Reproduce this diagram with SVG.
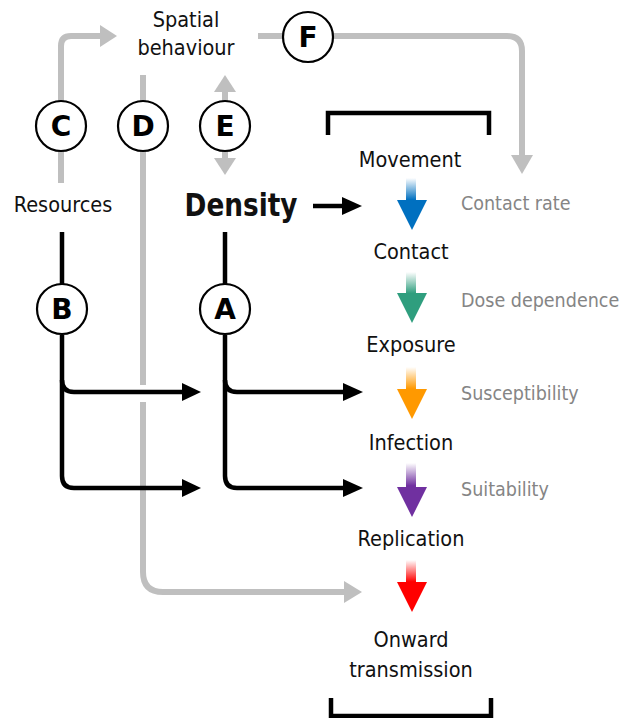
<svg xmlns="http://www.w3.org/2000/svg" width="621" height="718" viewBox="0 0 621 718">
<style>
text{font-family:"DejaVu Sans Condensed","DejaVu Sans","Liberation Sans",sans-serif;font-stretch:condensed;fill:#111}
.lbl{font-size:21.5px;text-anchor:middle}
.side{font-size:19.5px;fill:#858585}
.circ{fill:#fff;stroke:#000;stroke-width:2.2}
.cl{font-family:"DejaVu Sans","Liberation Sans",sans-serif;font-stretch:normal;font-size:28px;font-weight:bold;text-anchor:middle;fill:#000}
.g{fill:none;stroke:#bfbfbf;stroke-width:6}
.b{fill:none;stroke:#000;stroke-width:4.5}
.gh{fill:#bfbfbf}
.bh{fill:#000}
</style>
<defs>
<linearGradient id="gBlue" x1="0" y1="0" x2="0" y2="1"><stop offset="0" stop-color="#fff"/><stop offset="0.42" stop-color="#0070c0"/></linearGradient>
<linearGradient id="gGreen" x1="0" y1="0" x2="0" y2="1"><stop offset="0" stop-color="#fff"/><stop offset="0.42" stop-color="#2f9e7e"/></linearGradient>
<linearGradient id="gOrange" x1="0" y1="0" x2="0" y2="1"><stop offset="0" stop-color="#fff"/><stop offset="0.42" stop-color="#ff9900"/></linearGradient>
<linearGradient id="gPurple" x1="0" y1="0" x2="0" y2="1"><stop offset="0" stop-color="#fff"/><stop offset="0.42" stop-color="#7030a0"/></linearGradient>
<linearGradient id="gRed" x1="0" y1="0" x2="0" y2="1"><stop offset="0" stop-color="#fff"/><stop offset="0.42" stop-color="#ff0000"/></linearGradient>
</defs>

<g id="connectors">
  <!-- C: Resources -> Spatial behaviour -->
  <path class="g" d="M61,183 V46 Q61,36 71,36 H102"/>
  <polygon class="gh" points="100,25 117,36 100,47"/>
  <!-- D: Spatial behaviour -> Onward transmission -->
  <path class="g" d="M143,75 V385"/>
  <path class="g" d="M143,402 V572 Q143,592 163,592 H346"/>
  <polygon class="gh" points="344,581 362,592 344,603"/>
  <!-- E: double arrow -->
  <path class="g" d="M225,88 V162"/>
  <polygon class="gh" points="214,92 225,75 236,92"/>
  <polygon class="gh" points="214,158 225,175 236,158"/>
  <!-- F: Spatial behaviour -> Contact rate -->
  <path class="g" d="M258,36 H284"/>
  <path class="g" d="M333,36 H507 Q522,36 522,51 V158"/>
  <polygon class="gh" points="511,155 522,174 533,155"/>
  <!-- Density -> Movement/Contact -->
  <path class="b" d="M313,206 H344"/>
  <polygon class="bh" points="342,197 362,206 342,215"/>
  <!-- B: Resources -> Density effects -->
  <path class="b" d="M62,232 V284"/>
  <path class="b" d="M62,335 V476 Q62,488 74,488 H184"/>
  <path class="b" d="M62,380 Q62,392 74,392 H184"/>
  <polygon class="bh" points="182,383 201,392 182,401"/>
  <polygon class="bh" points="182,479 201,488 182,497"/>
  <!-- A: Density -> Infection / Replication -->
  <path class="b" d="M225,232 V284"/>
  <path class="b" d="M225,335 V476 Q225,488 237,488 H345"/>
  <path class="b" d="M225,380 Q225,392 237,392 H345"/>
  <polygon class="bh" points="343,383 363,392 343,401"/>
  <polygon class="bh" points="343,479 363,488 343,497"/>
  <!-- brackets -->
  <path class="b" d="M328,135 V113 H489 V135" stroke-width="3.5"/>
  <path class="b" d="M331,698 V716 H491 V698" stroke-width="3.5"/>
</g>

<g id="spatial-behaviour">
  <text class="lbl" x="186" y="27">Spatial</text>
  <text class="lbl" x="186" y="55">behaviour</text>
</g>
<g id="resources"><text class="lbl" x="63" y="212">Resources</text></g>
<g id="density"><text x="241" y="216" font-size="32px" font-weight="bold" text-anchor="middle" fill="#000" textLength="113" lengthAdjust="spacingAndGlyphs">Density</text></g>

<g id="circle-C"><circle class="circ" cx="61" cy="126" r="25"/><text class="cl" x="61" y="136">C</text></g>
<g id="circle-D"><circle class="circ" cx="143" cy="126" r="25"/><text class="cl" x="143" y="136">D</text></g>
<g id="circle-E"><circle class="circ" cx="225" cy="126" r="25"/><text class="cl" x="225" y="136">E</text></g>
<g id="circle-F"><circle class="circ" cx="308" cy="37" r="25"/><text class="cl" x="308" y="47">F</text></g>
<g id="circle-B"><circle class="circ" cx="62" cy="309" r="25"/><text class="cl" x="62" y="319">B</text></g>
<g id="circle-A"><circle class="circ" cx="225" cy="309" r="25"/><text class="cl" x="225" y="319">A</text></g>

<g id="movement"><text class="lbl" x="410" y="167">Movement</text></g>
<g id="arrow-blue"><polygon fill="url(#gBlue)" points="406,178 416,178 416,200 427,200 412,230 397,200 406,200"/></g>
<g id="contact-rate"><text class="side" x="461" y="210">Contact rate</text></g>
<g id="contact"><text class="lbl" x="411" y="259">Contact</text></g>
<g id="arrow-green"><polygon fill="url(#gGreen)" points="406,272 416,272 416,293 427,293 412,323 397,293 406,293"/></g>
<g id="dose-dependence"><text class="side" x="461" y="307">Dose dependence</text></g>
<g id="exposure"><text class="lbl" x="411" y="352">Exposure</text></g>
<g id="arrow-orange"><polygon fill="url(#gOrange)" points="406,367 416,367 416,389 427,389 412,419 397,389 406,389"/></g>
<g id="susceptibility"><text class="side" x="461" y="400">Susceptibility</text></g>
<g id="infection"><text class="lbl" x="411" y="450">Infection</text></g>
<g id="arrow-purple"><polygon fill="url(#gPurple)" points="406,463 416,463 416,487 427,487 412,517 397,487 406,487"/></g>
<g id="suitability"><text class="side" x="461" y="496">Suitability</text></g>
<g id="replication"><text class="lbl" x="411" y="546">Replication</text></g>
<g id="arrow-red"><polygon fill="url(#gRed)" points="406,560 416,560 416,582 427,582 412,612 397,582 406,582"/></g>
<g id="onward-transmission">
  <text class="lbl" x="411" y="647">Onward</text>
  <text class="lbl" x="411" y="677">transmission</text>
</g>
</svg>
